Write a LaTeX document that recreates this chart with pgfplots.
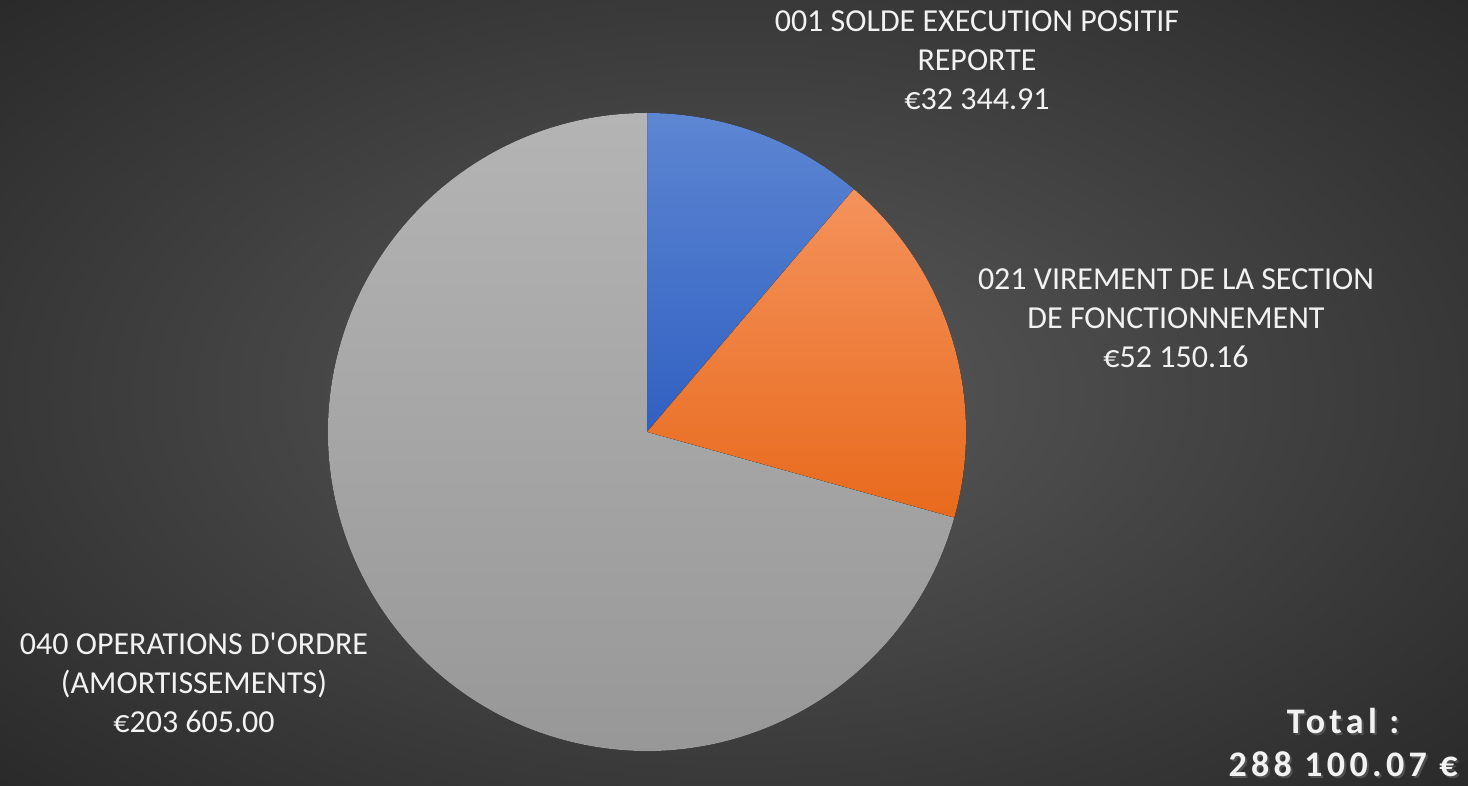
\documentclass[border=0pt]{standalone}
\usepackage{pgfplots}
\pgfplotsset{compat=1.18}
\usepackage{fontspec}
\setmainfont{Carlito}
\definecolor{txt}{RGB}{242,242,242}
\definecolor{bgin}{RGB}{90,90,90}
\definecolor{bgout}{RGB}{40,40,40}
\definecolor{blueT}{RGB}{93,134,210}
\definecolor{blueB}{RGB}{48,96,194}
\definecolor{oraT}{RGB}{244,146,92}
\definecolor{oraB}{RGB}{232,106,28}
\definecolor{grayT}{RGB}{180,180,180}
\definecolor{grayB}{RGB}{150,150,150}
% data values
\def\vA{32344.91}
\def\vB{52150.16}
\def\vC{203605.00}
\edef\sliceTot{\fpeval{\vA+\vB+\vC}}
\edef\angA{90}
\edef\angB{\fpeval{round(90-360*\vA/\sliceTot,4)}}
\edef\angC{\fpeval{round(\angB-360*\vB/\sliceTot,4)}}
\edef\angD{\fpeval{round(\angC-360*\vC/\sliceTot,4)}}
\begin{document}
\begin{tikzpicture}
\useasboundingbox (0,0) rectangle (734pt,393pt);
\begin{scope}
\clip (0,0) rectangle (734pt,393pt);
\shade[inner color=bgin, outer color=bgout] (-160pt,-100pt) rectangle (894pt,493pt);
\end{scope}
\begin{axis}[at={(323.5pt,177pt)}, anchor=center, scale only axis,
  width=319pt, height=319pt, xmin=-1, xmax=1, ymin=-1, ymax=1,
  hide axis, clip=false]
\addplot[draw=none] coordinates {(-1,-1) (1,1)};
\fill[top color=blueT, bottom color=blueB] (axis cs:0,0) -- (axis cs:0,1) arc[start angle=\angA, end angle=\angB, radius=159.5pt] -- cycle;
\fill[top color=oraT, bottom color=oraB] (axis cs:0,0) -- (axis cs:{cos(\angB)},{sin(\angB)}) arc[start angle=\angB, end angle=\angC, radius=159.5pt] -- cycle;
\fill[top color=grayT, bottom color=grayB] (axis cs:0,0) -- (axis cs:{cos(\angC)},{sin(\angC)}) arc[start angle=\angC, end angle=\angD, radius=159.5pt] -- cycle;
\end{axis}
\begin{scope}[every node/.style={text=txt, align=center, font=\fontsize{16}{19.5}\selectfont}]
\node at (488.5pt,363pt) {001 SOLDE EXECUTION POSITIF\\REPORTE\\€32 344.91};
\node at (588pt,234pt) {021 VIREMENT DE LA SECTION\\DE FONCTIONNEMENT\\€52 150.16};
\node at (97pt,51.5pt) {040 OPERATIONS D\textquotesingle ORDRE\\(AMORTISSEMENTS)\\€203 605.00};
\end{scope}
\node[text=black!60, opacity=0.6, align=center, font=\fontsize{18}{21.5}\selectfont\bfseries\addfontfeatures{LetterSpace=12}] at (672.5pt,20.5pt) {Total :\\288 100.07 €};
\node[text=txt, align=center, font=\fontsize{18}{21.5}\selectfont\bfseries\addfontfeatures{LetterSpace=12}] at (671.5pt,21.5pt) {Total :\\288 100.07 €};
\end{tikzpicture}
\end{document}
